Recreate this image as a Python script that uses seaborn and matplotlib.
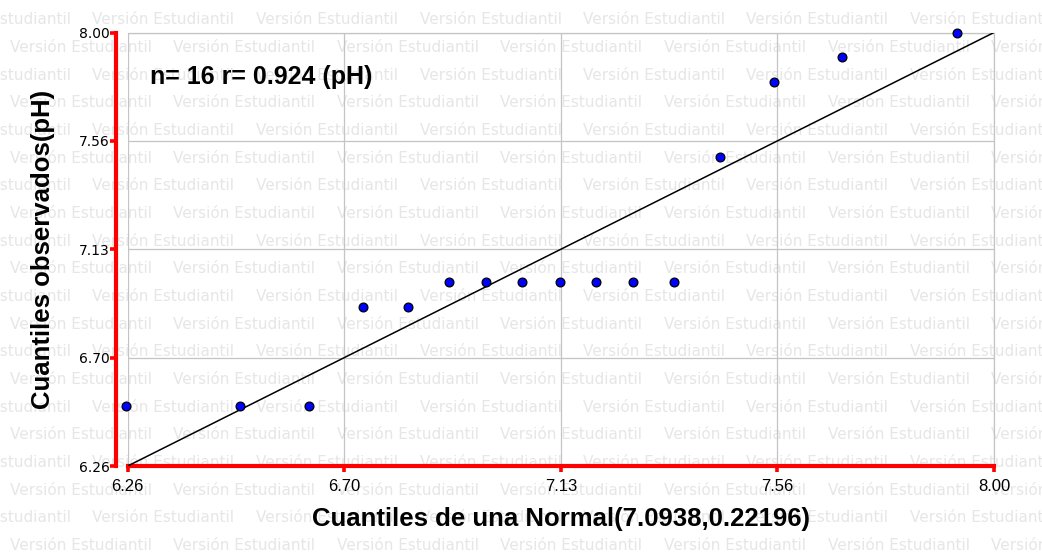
import numpy as np
import matplotlib
matplotlib.use("Agg")
import matplotlib.pyplot as plt
import seaborn as sns

# ---- data ----
normal_quantiles = [6.256, 6.486, 6.624, 6.732, 6.823, 6.906, 6.980, 7.052,
                    7.128, 7.200, 7.275, 7.357, 7.450, 7.559, 7.695, 7.926]
observed_quantiles = [6.50, 6.50, 6.50, 6.90, 6.90, 7.00, 7.00, 7.00,
                      7.00, 7.00, 7.00, 7.00, 7.50, 7.80, 7.90, 8.00]
tick_labels = ["6.26", "6.70", "7.13", "7.56", "8.00"]
axis_min, axis_max = 6.26, 8.00
annotation = "n= 16 r= 0.924 (pH)"
xlabel = "Cuantiles de una Normal(7.0938,0.22196)"
ylabel = "Cuantiles observados(pH)"
watermark = "Versión Estudiantil"

W, H = 1042, 554
fig = plt.figure(figsize=(W / 100, H / 100), dpi=100)
fig.patch.set_facecolor("white")

# watermark tiling (behind the axes)
row_h = 27.65
period = 163.5
for k in range(20):
    yc = 20 + row_h * k
    x0 = -71 if k % 2 == 0 else 10
    for j in range(7):
        xp = x0 + period * j
        fig.text(xp / W, 1 - yc / H, watermark, ha="left", va="center",
                 fontsize=11, color="#e6e6e6", family="DejaVu Sans", zorder=-1)

left, right, top, bottom = 127.7, 994.0, 32.5, 466.0
ax = fig.add_axes([left / W, 1 - bottom / H, (right - left) / W, (bottom - top) / H])
ax.set_facecolor("none")

ticks = np.linspace(axis_min, axis_max, len(tick_labels))
ax.set_xlim(axis_min, axis_max)
ax.set_ylim(axis_min, axis_max)
ax.set_xticks(ticks)
ax.set_yticks(ticks)
ax.set_xticklabels(tick_labels, family="Liberation Sans", fontsize=12)
ax.set_yticklabels(tick_labels, family="Liberation Sans", fontsize=12)

ax.grid(True, color="#c4c4c4", linewidth=0.9, zorder=0)
ax.set_axisbelow(True)

# reference line
ax.plot([axis_min, axis_max], [axis_min, axis_max], color="black", linewidth=1.1, zorder=3)

sns.scatterplot(x=normal_quantiles, y=observed_quantiles, ax=ax, color="#0000ff",
                edgecolor="black", linewidth=0.9, s=40, zorder=5, clip_on=False,
                legend=False)

for s in ["top", "right"]:
    ax.spines[s].set_color("#c4c4c4")
    ax.spines[s].set_linewidth(0.9)
for s in ["left", "bottom"]:
    ax.spines[s].set_color("red")
    ax.spines[s].set_linewidth(3.0)
ax.spines["left"].set_position(("outward", 8.4))

ax.tick_params(axis="both", color="red", width=2.6, length=4.2, labelcolor="black")
ax.tick_params(axis="y", pad=0.5)
ax.tick_params(axis="x", pad=5.5)

ax.set_xlabel(xlabel, family="Liberation Sans", fontweight="bold", fontsize=18.5)
ax.set_ylabel(ylabel, family="Liberation Sans", fontweight="bold", fontsize=18.5)
ax.xaxis.set_label_coords(0.5, (bottom - 519) / (bottom - top))
ax.xaxis.label.set_va("center")
ax.yaxis.set_label_coords((43 - left) / (right - left), 0.5)
ax.yaxis.label.set_va("center")
ax.yaxis.label.set_ha("center")

ax.text((150 - left) / (right - left), (bottom - 77) / (bottom - top), annotation,
        transform=ax.transAxes, ha="left", va="center", family="Liberation Sans",
        fontweight="bold", fontsize=18, color="black", zorder=6)

fig.savefig("out.png", dpi=100)
